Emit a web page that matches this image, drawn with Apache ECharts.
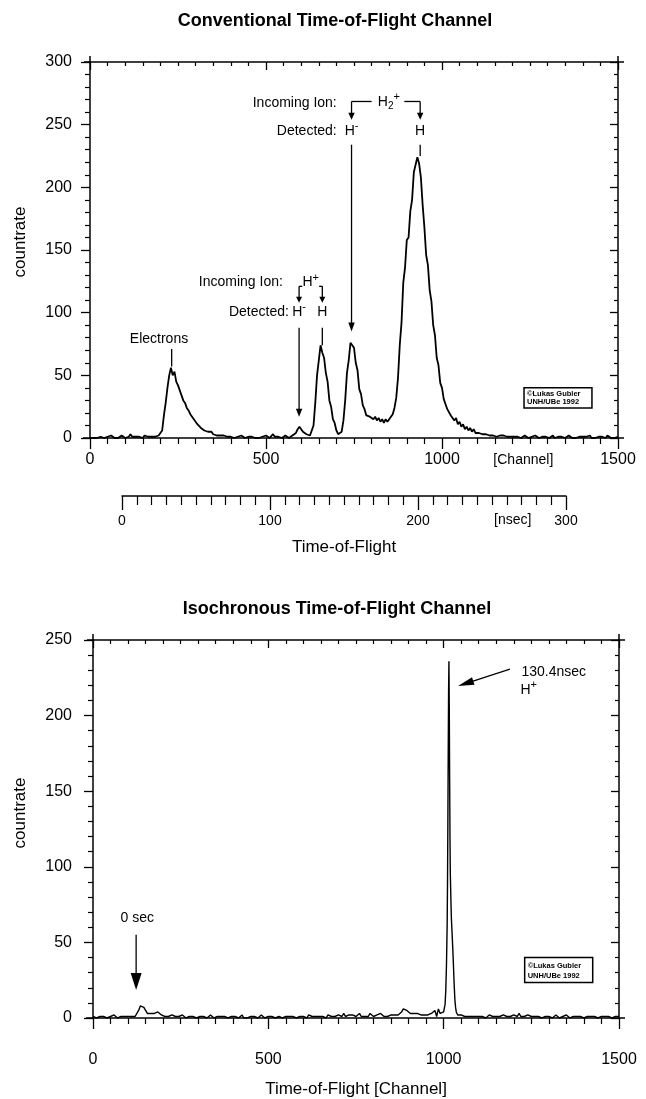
<!DOCTYPE html>
<html>
<head>
<meta charset="utf-8">
<script src="https://cdn.jsdelivr.net/npm/echarts@6/dist/echarts.min.js"></script>
<style>
  html, body { margin: 0; padding: 0; background: #fff; }
  #chart { width: 646px; height: 1099px; }
</style>
</head>
<body>
<div id="chart"></div>
<script>
const FONT = '"Liberation Sans", Arial, Helvetica, sans-serif';

// Channel width of one bin in both spectra
const CHANNEL_STEP = 5;

// Conventional TOF spectrum, counts per bin, channels 0..1500 step 5
const conventionalCounts = [
  // 0–95
  0,1,0,1,0,0,1,2,0,1, 1,0,2,1,0,1,0,1,2,1,
  // 100–195
  0,1,1,3,1,0,1,2,1,1, 0,2,1,1,0,1,2,1,1,2,
  // 200–295 (electrons)
  2,6,18,28,40,50,56,50,53,45, 42,38,34,30,28,24,22,19,17,15,
  // 300–395
  13,11,10,8,8,6,6,5,4,5, 3,4,2,3,2,1,2,3,1,2,
  // 400–495
  1,2,0,1,1,0,2,1,0,1, 1,0,1,2,0,1,0,1,1,0,
  // 500–595
  2,1,0,1,3,1,0,1,1,0, 1,2,1,0,1,2,2,4,7,9,
  // 600–695 (H-, H from H+)
  8,5,4,3,2,2,3,10,28,50, 62,74,68,64,52,45,30,25,15,12,
  // 700–795 (H- from H2+)
  6,3,2,5,14,30,52,62,76,75, 72,60,54,39,35,26,23,18,19,17,
  // 800–895
  18,15,17,14,16,13,15,12,15,13, 15,16,19,24,32,48,74,92,124,136,
  // 900–995 (H from H2+)
  158,160,181,190,212,213,224,219,208,186, 168,146,138,118,109,90,82,64,58,44,
  // 1000–1095
  40,31,30,23,23,18,19,14,16,11, 13,9,11,7,9,6,8,5,7,4,
  // 1100–1195
  5,4,5,3,4,3,3,2,3,2, 3,1,2,2,1,2,1,1,2,1,
  // 1200–1295
  0,1,2,1,1,0,1,2,1,0, 1,1,0,2,1,0,1,1,0,1,
  // 1300–1395
  1,0,1,2,0,1,1,0,1,1, 0,1,2,1,0,1,0,1,1,0,
  // 1400–1495
  1,0,1,1,2,0,1,0,1,1, 0,1,1,0,2,1,0,1,0,1,
  // 1500
  1
];

// Isochronous TOF spectrum: channels 0..995 step 5
const isoLowCounts = [
  // 0–95
  1,1,0,1,1,0,1,0,0,1, 1,0,2,1,0,1,1,0,1,1,
  // 100–195
  1,0,1,1,1,2,5,8,9,7, 5,3,2,3,2,3,3,4,3,2,
  // 200–295
  2,1,2,1,1,2,1,1,0,1, 1,2,1,0,1,1,0,1,1,0,
  // 300–395
  1,1,0,1,1,0,1,2,1,0, 1,1,0,1,0,1,1,0,1,1,
  // 400–495
  0,1,1,0,1,2,0,1,0,1, 1,0,1,1,0,1,2,1,0,1,
  // 500–595
  1,0,1,1,0,1,1,2,0,1, 1,0,1,2,1,1,0,1,1,2,
  // 600–695
  1,1,0,2,1,1,2,1,0,1, 2,1,1,0,2,1,1,2,1,1,
  // 700–795
  2,1,1,3,1,1,2,1,2,1, 1,2,3,1,2,1,2,1,3,2,
  // 800–895
  1,2,2,1,3,2,1,2,1,2, 2,1,2,3,2,3,4,6,7,5,
  // 900–995
  4,3,2,3,2,3,2,2,3,2, 1,2,2,3,2,5,1,6,3,2
];

// H+ peak at 130.4 nsec, finer channel sampling
const isoPeakChannels = [1000,1002,1004,1006,1008,1010,1011,1012,1013,1014,1015,1016,1017,1018,1019,1020,1021,1022,1024,1026,1028,1030,1032,1034,1036,1038,1040];
const isoPeakCounts   = [4,5,9,18,35,62,90,130,175,215,236,205,160,120,95,85,75,66,56,46,34,22,12,7,4,3,2];

// Isochronous TOF spectrum: channels 1045..1500 step 5
const isoHighCounts = [
  // 1045–1095
  3,2,2,1,2,1,2,1,2,1,2,
  // 1100–1195
  1,2,1,1,0,1,2,1,1,2, 1,0,1,1,2,1,1,0,1,1,
  // 1200–1295
  2,1,1,3,1,2,1,1,2,1, 1,0,1,2,1,1,0,1,1,2,
  // 1300–1395
  1,1,0,1,2,1,0,1,1,1, 2,1,0,1,1,0,1,2,1,1,
  // 1400–1495
  0,1,1,2,1,0,1,1,0,1, 1,2,1,0,1,1,0,1,1,0,
  // 1500
  1
];

const channelRange = [0, 1500];
const conventionalCountRange = [0, 300];
const isoCountRange = [0, 250];
const nsecRange = [0, 300];

const conventionalData = conventionalCounts.map((v, i) => [i * CHANNEL_STEP, v]);
const isoData = []
  .concat(isoLowCounts.map((v, i) => [i * CHANNEL_STEP, v]))
  .concat(isoPeakChannels.map((c, i) => [c, isoPeakCounts[i]]))
  .concat(isoHighCounts.map((v, i) => [1045 + i * CHANNEL_STEP, v]));

const BLACK = '#000';
const axisLineStyle = { show: true, onZero: false, lineStyle: { color: BLACK, width: 1.5 } };
const plainNumber = v => String(v);

function channelAxis(gridIndex, position, withLabels, labelMargin) {
  return {
    gridIndex, type: 'value', position,
    min: channelRange[0], max: channelRange[1], interval: 500,
    axisLine: axisLineStyle,
    axisTick: { show: true, inside: position === 'top', length: position === 'top' ? 8 : 11,
                lineStyle: { color: BLACK, width: 1.3 } },
    minorTick: { show: true, splitNumber: 10, length: position === 'top' ? 4 : 6,
                 lineStyle: { color: BLACK, width: 1.2 } },
    axisLabel: { show: withLabels, color: BLACK, fontSize: 16, fontFamily: FONT, margin: labelMargin,
                 formatter: plainNumber },
    splitLine: { show: false }, minorSplitLine: { show: false }
  };
}

function countAxis(gridIndex, position, range, withLabels, labelMargin) {
  return {
    gridIndex, type: 'value', position,
    min: range[0], max: range[1], interval: 50,
    axisLine: axisLineStyle,
    axisTick: { show: true, inside: position === 'right', length: position === 'right' ? 8 : 9,
                lineStyle: { color: BLACK, width: 1.3 } },
    minorTick: { show: true, splitNumber: 5, length: position === 'right' ? 4 : 5,
                 lineStyle: { color: BLACK, width: 1.2 } },
    axisLabel: { show: withLabels, color: BLACK, fontSize: 16, fontFamily: FONT, margin: labelMargin,
                 formatter: plainNumber },
    splitLine: { show: false }, minorSplitLine: { show: false }
  };
}

const chart = echarts.init(document.getElementById('chart'), null, { renderer: 'canvas' });

chart.setOption({
  animation: false,
  backgroundColor: '#fff',
  grid: [
    { left: 90, right: 28, top: 62, height: 376 },
    { left: 122, width: 444, top: 495, height: 1 },
    { left: 93, right: 27, top: 640, height: 378 }
  ],
  xAxis: [
    channelAxis(0, 'bottom', true, 14),
    channelAxis(0, 'top', false, 8),
    {
      gridIndex: 1, type: 'value', position: 'bottom',
      min: nsecRange[0], max: nsecRange[1], interval: 100,
      axisLine: axisLineStyle,
      axisTick: { show: true, length: 14, lineStyle: { color: BLACK, width: 1.3 } },
      minorTick: { show: true, splitNumber: 10, length: 9, lineStyle: { color: BLACK, width: 1.2 } },
      axisLabel: { color: BLACK, fontSize: 14, fontFamily: FONT, margin: 18, formatter: plainNumber },
      splitLine: { show: false }
    },
    channelAxis(2, 'bottom', true, 34),
    channelAxis(2, 'top', false, 8)
  ],
  yAxis: [
    countAxis(0, 'left', conventionalCountRange, true, 18),
    countAxis(0, 'right', conventionalCountRange, false, 8),
    { gridIndex: 1, type: 'value', min: 0, max: 1, show: false },
    countAxis(2, 'left', isoCountRange, true, 21),
    countAxis(2, 'right', isoCountRange, false, 8)
  ],
  series: [
    {
      type: 'line', xAxisIndex: 0, yAxisIndex: 0, data: conventionalData,
      showSymbol: false, silent: true, lineStyle: { color: BLACK, width: 1.8 }
    },
    {
      type: 'line', xAxisIndex: 3, yAxisIndex: 3, data: isoData,
      showSymbol: false, silent: true, lineStyle: { color: BLACK, width: 1.4 }
    }
  ]
});

// ---- annotations, all anchored in data coordinates ----
const measureCtx = document.createElement('canvas').getContext('2d');
function textWidth(str, size, bold) {
  measureCtx.font = (bold ? 'bold ' : '') + size + 'px ' + FONT;
  return measureCtx.measureText(str).width;
}

function buildAnnotations() {
  const g = [];
  const P = (si, x, y) => chart.convertToPixel({ seriesIndex: si }, [x, y]);
  const T = (x, y, text, size, o = {}) => g.push({
    type: 'text', x, y, rotation: o.rot || 0, silent: true,
    style: { text, font: (o.bold ? 'bold ' : '') + size + 'px ' + FONT, fill: BLACK,
             align: o.align || 'center', verticalAlign: o.va || 'middle' }
  });
  const L = (x1, y1, x2, y2, w = 1.3) => g.push({
    type: 'line', silent: true, shape: { x1, y1, x2, y2 }, style: { stroke: BLACK, lineWidth: w }
  });
  const A = (x1, y1, x2, y2, len, half, w = 1.3) => {
    const dx = x2 - x1, dy = y2 - y1, d = Math.hypot(dx, dy), ux = dx / d, uy = dy / d;
    const bx = x2 - ux * len, by = y2 - uy * len;
    L(x1, y1, bx + ux, by + uy, w);
    g.push({ type: 'polygon', silent: true,
      shape: { points: [[x2, y2], [bx - uy * half, by + ux * half], [bx + uy * half, by - ux * half]] },
      style: { fill: BLACK } });
  };
  // ion symbol with sub/superscripts
  const ion = (x, y, parts, align = 'center') => {
    const ws = parts.map(p => textWidth(p.t, p.s));
    const total = ws.reduce((a, b) => a + b, 0);
    let cx = align === 'center' ? x - total / 2 : x;
    parts.forEach((p, i) => { T(cx, y + (p.dy || 0), p.t, p.s, { align: 'left' }); cx += ws[i]; });
  };
  const H = [{ t: 'H', s: 14 }];
  const Hplus = [{ t: 'H', s: 14 }, { t: '+', s: 11, dy: -5 }];
  const Hminus = [{ t: 'H', s: 14 }, { t: '-', s: 11, dy: -5 }];
  const H2plus = [{ t: 'H', s: 14 }, { t: '2', s: 10, dy: 4 }, { t: '+', s: 11, dy: -5 }];

  // copyright box
  const box = (si, c0, c1, v0, v1) => {
    const a = P(si, c0, v1), b = P(si, c1, v0);
    g.push({ type: 'rect', silent: true, shape: { x: a[0], y: a[1], width: b[0] - a[0], height: b[1] - a[1] },
             style: { fill: '#fff', stroke: BLACK, lineWidth: 1.5 } });
    const h = b[1] - a[1];
    T(a[0] + 3, a[1] + h * 0.32, '\u00A9Lukas Gubler', 7.5, { bold: true, align: 'left' });
    T(a[0] + 3, a[1] + h * 0.72, 'UNH/UBe 1992', 7.5, { bold: true, align: 'left' });
  };

  // plot frame corner crosses
  [0, 1].forEach(si => {
    const maxV = si === 0 ? conventionalCountRange[1] : isoCountRange[1];
    const tl = P(si, channelRange[0], maxV), br = P(si, channelRange[1], 0);
    const l = tl[0], t = tl[1], r = br[0], b = br[1];
    L(l - 6, t, l, t, 1.5); L(l, t - 6, l, t, 1.5);
    L(r, t, r + 6, t, 1.5); L(r, t - 6, r, t, 1.5);
    L(l - 7, b, l, b, 1.5); L(r, b, r + 6, b, 1.5);
  });

  // ---- conventional channel ----
  const top0 = P(0, 0, conventionalCountRange[1]), base0 = P(0, 0, 0);
  const right0 = P(0, channelRange[1], 0);
  T((top0[0] + right0[0]) / 2 - 19, 21, 'Conventional Time-of-Flight Channel', 18, { bold: true });
  T(20, 242, 'countrate', 17, { rot: Math.PI / 2 });
  T(P(0, 1231, 0)[0], base0[1] + 22, '[Channel]', 14);

  const nsecX = v => chart.convertToPixel({ xAxisIndex: 2 }, v);
  const nsecLineY = chart.convertToPixel({ yAxisIndex: 2 }, 0);
  T(nsecX(264), nsecLineY + 24, '[nsec]', 14);
  T(nsecX(150), 547, 'Time-of-Flight', 17);

  // electrons
  let p = P(0, 196, 79); T(p[0], p[1], 'Electrons', 14);
  let a = P(0, 232, 71), b = P(0, 232, 57); L(a[0], a[1], b[0], b[1]);

  // incoming H+, detected H- / H
  p = P(0, 548, 124); T(p[0], p[1], 'Incoming Ion:', 14, { align: 'right' });
  p = P(0, 627, 124); ion(p[0], p[1], Hplus);
  p = P(0, 565, 100.5); T(p[0], p[1], 'Detected:', 14, { align: 'right' });
  p = P(0, 594, 100.5); ion(p[0], p[1], Hminus);
  p = P(0, 660, 100.5); ion(p[0], p[1], H);
  a = P(0, 594, 121); b = P(0, 603, 121); L(a[0], a[1], b[0], b[1]);
  a = P(0, 651, 121); b = P(0, 660, 121); L(a[0], a[1], b[0], b[1]);
  a = P(0, 594, 121); b = P(0, 594, 108); A(a[0], a[1], b[0], b[1], 6, 3);
  a = P(0, 660, 121); b = P(0, 660, 108); A(a[0], a[1], b[0], b[1], 6, 3);
  a = P(0, 594, 88); b = P(0, 594, 17); A(a[0], a[1], b[0], b[1], 8, 3.2);
  a = P(0, 660, 88); b = P(0, 660, 74); L(a[0], a[1], b[0], b[1]);

  // incoming H2+, detected H- / H
  p = P(0, 701, 267); T(p[0], p[1], 'Incoming Ion:', 14, { align: 'right' });
  p = P(0, 849, 268); ion(p[0], p[1], H2plus);
  p = P(0, 701, 245); T(p[0], p[1], 'Detected:', 14, { align: 'right' });
  p = P(0, 743, 245); ion(p[0], p[1], Hminus);
  p = P(0, 938, 245); ion(p[0], p[1], H);
  a = P(0, 743, 268.5); b = P(0, 800, 268.5); L(a[0], a[1], b[0], b[1]);
  a = P(0, 893, 268.5); b = P(0, 938, 268.5); L(a[0], a[1], b[0], b[1]);
  a = P(0, 743, 268.5); b = P(0, 743, 254); A(a[0], a[1], b[0], b[1], 7, 3.2);
  a = P(0, 938, 268.5); b = P(0, 938, 254); A(a[0], a[1], b[0], b[1], 7, 3.2);
  a = P(0, 743, 234); b = P(0, 743, 85); A(a[0], a[1], b[0], b[1], 9, 3.2);
  a = P(0, 938, 234); b = P(0, 938, 225); L(a[0], a[1], b[0], b[1]);

  box(0, 1233, 1426, 24, 40);

  // ---- isochronous channel ----
  const top1 = P(1, 0, isoCountRange[1]), right1 = P(1, channelRange[1], 0);
  T((top1[0] + right1[0]) / 2 - 19, 609, 'Isochronous Time-of-Flight Channel', 18, { bold: true });
  T(20, 813, 'countrate', 17, { rot: Math.PI / 2 });
  T((top1[0] + right1[0]) / 2, 1089, 'Time-of-Flight [Channel]', 17);

  p = P(1, 126, 66); T(p[0], p[1], '0 sec', 14);
  a = P(1, 123, 55); b = P(1, 123, 18.5); A(a[0], a[1], b[0], b[1], 17, 5.5);

  p = P(1, 1222, 229); T(p[0], p[1], '130.4nsec', 14, { align: 'left' });
  p = P(1, 1219, 217); ion(p[0], p[1], Hplus, 'left');
  a = P(1, 1189, 230.8); b = P(1, 1041, 219.6); A(a[0], a[1], b[0], b[1], 16, 4);

  box(1, 1231, 1425, 23.5, 40);
  return g;
}

chart.setOption({ graphic: { elements: buildAnnotations() } });
</script>
</body>
</html>
